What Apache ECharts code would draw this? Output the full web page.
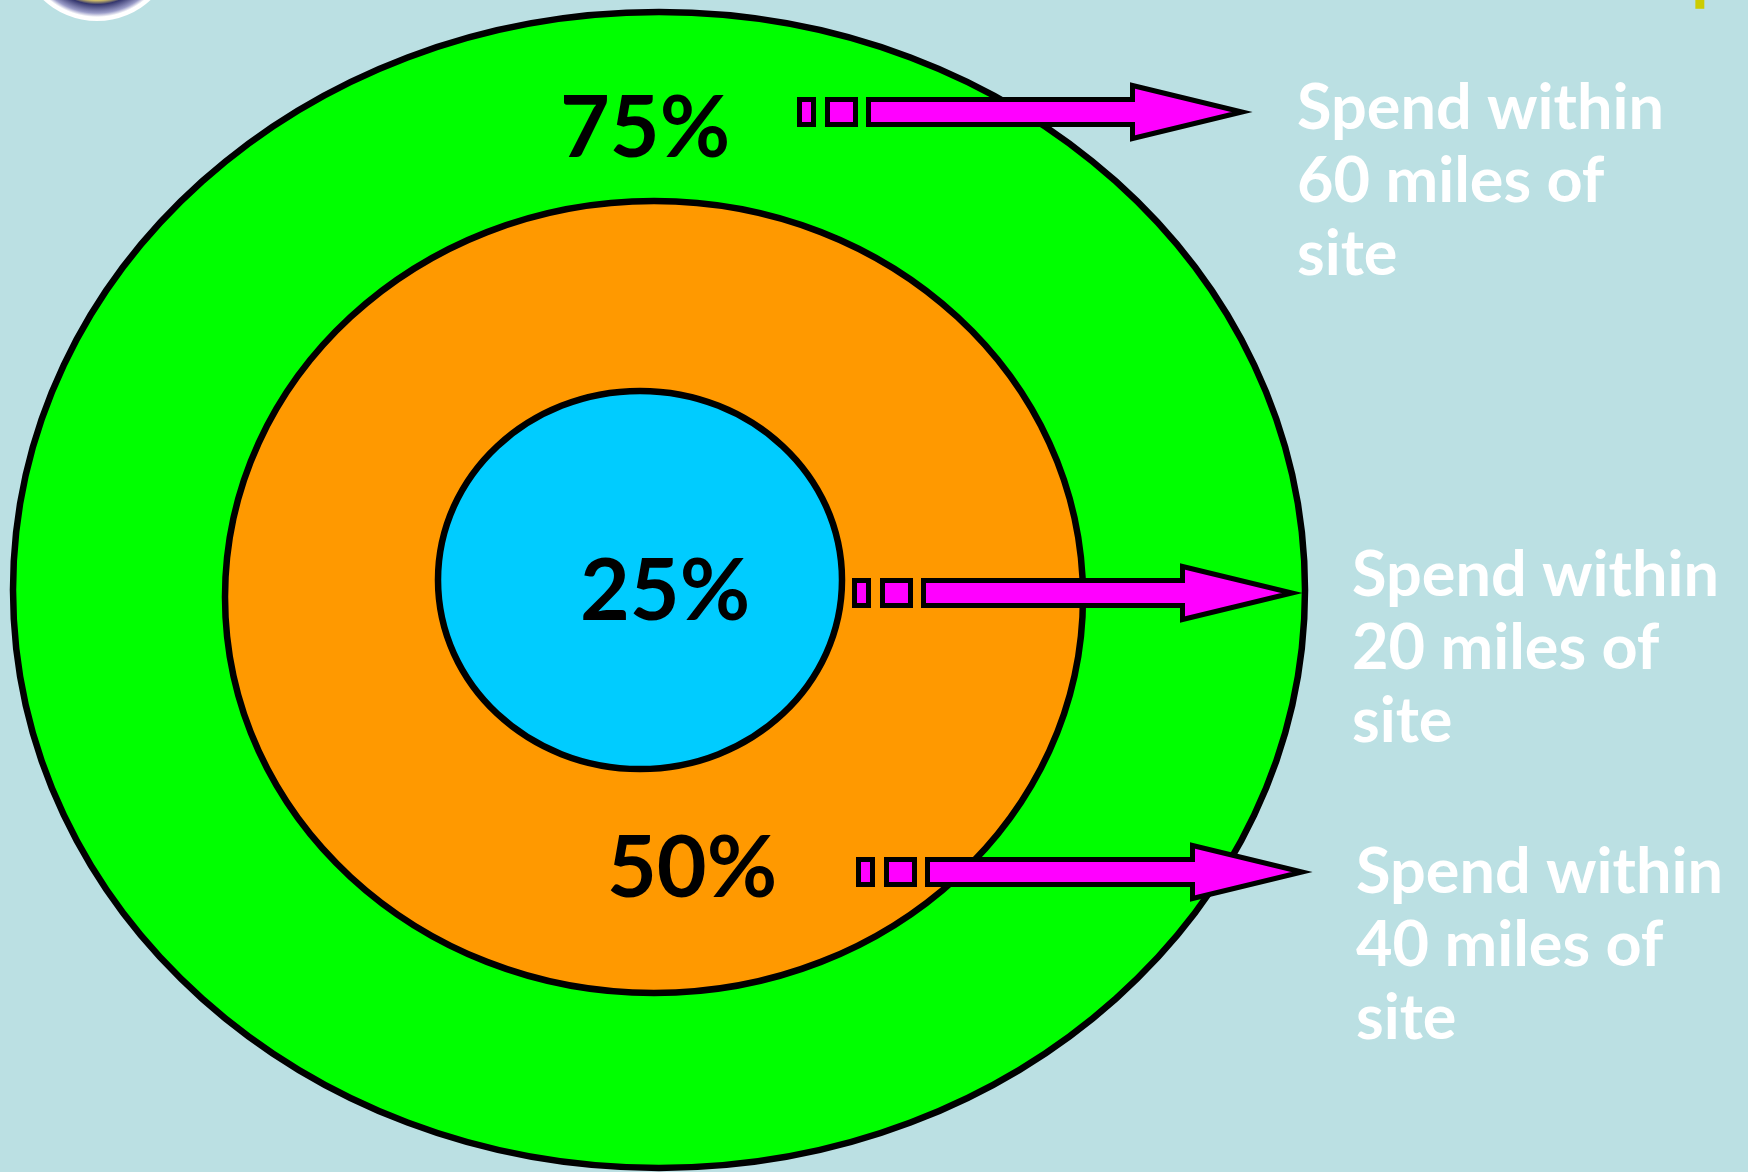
<!DOCTYPE html>
<html>
<head>
<meta charset="utf-8">
<title>Spend within distance of site</title>
<script src="https://cdn.jsdelivr.net/npm/echarts@6/dist/echarts.min.js"></script>
<style>
  html, body { margin: 0; padding: 0; background: #bbe0e3; }
  #chart { width: 1748px; height: 1172px; }
</style>
</head>
<body>
<div id="chart"></div>
<script>
// share of spend per ring, outer ring first
const shares = ['75%', '50%', '25%'];
const miles = [60, 40, 20];

// rings (canvas units), outer to inner
const ringCx = [659, 654, 640];
const ringCy = [590, 597, 580];
const ringRx = [646, 429, 202];
const ringRy = [578, 396, 189];
const shareX = [645, 692, 665];
const shareBase = [155, 895, 618];

// callouts, top to bottom
const calloutMiles = [60, 20, 40];
const arrowFromX = [797, 852, 856];
const arrowY = [112, 593, 872];
const arrowTipX = [1253, 1303, 1313];
const noteX = [1297, 1352, 1356];
const noteBase = [128, 595, 892];

const ringColors = ['#00ff00', '#ff9900', '#00ccff'];
const SHARE_FONT = 86;
const NOTE_FONT = 63;
const NOTE_LINE = 73;

const chart = echarts.init(document.getElementById('chart'));

const ringData = ringCx.map((x, i) => [x, ringCy[i], ringRx[i], ringRy[i]]);
const shareData = shareX.map((x, i) => [x, shareBase[i]]);
const arrowData = arrowFromX.map((x, i) => [x, arrowY[i], arrowTipX[i]]);
const noteData = noteX.map((x, i) => [x, noteBase[i]]);

function renderRing(params, api) {
  const c = api.coord([api.value(0), api.value(1)]);
  const s = api.size([api.value(2), api.value(3)]);
  return {
    type: 'ellipse',
    shape: { cx: c[0], cy: c[1], rx: s[0], ry: s[1] },
    style: { fill: ringColors[params.dataIndex], stroke: '#000', lineWidth: 6.5 }
  };
}

function renderShare(params, api) {
  const p = api.coord([api.value(0), api.value(1)]);
  return {
    type: 'text',
    x: p[0],
    y: p[1] - SHARE_FONT * 0.3,
    style: {
      text: shares[params.dataIndex],
      fill: '#000',
      font: 'bold ' + SHARE_FONT + 'px Lato',
      align: 'center',
      verticalAlign: 'middle'
    }
  };
}

function renderArrow(params, api) {
  const a = api.coord([api.value(0), api.value(1)]);
  const b = api.coord([api.value(2), api.value(1)]);
  const s = a[0], y = a[1], t = b[0];
  const st = { fill: '#ff00ff', stroke: '#000', lineWidth: 5, lineJoin: 'miter' };
  const shaft = s + 71.5, base = t - 120.5;
  return {
    type: 'group',
    children: [
      { type: 'rect', shape: { x: s + 2.5, y: y - 12.5, width: 14, height: 25 }, style: st },
      { type: 'rect', shape: { x: s + 30.5, y: y - 12.5, width: 28, height: 25 }, style: st },
      {
        type: 'polygon',
        shape: {
          points: [
            [shaft, y - 12.5], [base, y - 12.5], [base, y - 26.5], [t - 11, y],
            [base, y + 26.5], [base, y + 12.5], [shaft, y + 12.5]
          ]
        },
        style: st
      }
    ]
  };
}

function renderNote(params, api) {
  const p = api.coord([api.value(0), api.value(1)]);
  return {
    type: 'text',
    x: p[0],
    y: p[1] - NOTE_FONT * 0.3 - NOTE_LINE / 2,
    style: {
      text: 'Spend within\n' + calloutMiles[params.dataIndex] + ' miles of\nsite',
      fill: '#ffffff',
      font: 'bold ' + NOTE_FONT + 'px Lato',
      lineHeight: NOTE_LINE,
      align: 'left',
      verticalAlign: 'top'
    }
  };
}

const option = {
  backgroundColor: '#bbe0e3',
  animation: false,
  grid: { left: 0, right: 0, top: 0, bottom: 0 },
  xAxis: { type: 'value', min: 0, max: 1748, show: false },
  yAxis: { type: 'value', min: 0, max: 1172, inverse: true, show: false },
  graphic: [
    {
      type: 'circle',
      shape: { cx: 97, cy: -58, r: 79 },
      style: {
        fill: {
          type: 'radial', x: 0.5, y: 0.5, r: 0.5,
          colorStops: [
            { offset: 0, color: '#eee0a0' },
            { offset: 0.74, color: '#d2be66' },
            { offset: 0.79, color: '#34366e' },
            { offset: 0.9, color: '#9a9cc8' },
            { offset: 0.95, color: '#ffffff' },
            { offset: 1, color: '#ffffff' }
          ]
        }
      }
    },
    {
      type: 'text',
      x: 1732,
      y: -6 - 72 * 0.3,
      style: {
        text: 'Group',
        fill: '#cccc00',
        font: 'bold 72px Lato',
        align: 'right',
        verticalAlign: 'middle'
      }
    }
  ],
  series: [
    { name: 'rings', type: 'custom', renderItem: renderRing, data: ringData, clip: false, z: 1 },
    { name: 'shares', type: 'custom', renderItem: renderShare, data: shareData, clip: false, z: 2 },
    { name: 'arrows', type: 'custom', renderItem: renderArrow, data: arrowData, clip: false, z: 3 },
    { name: 'notes', type: 'custom', renderItem: renderNote, data: noteData, clip: false, z: 4 }
  ]
};

chart.setOption(option);
</script>
</body>
</html>
